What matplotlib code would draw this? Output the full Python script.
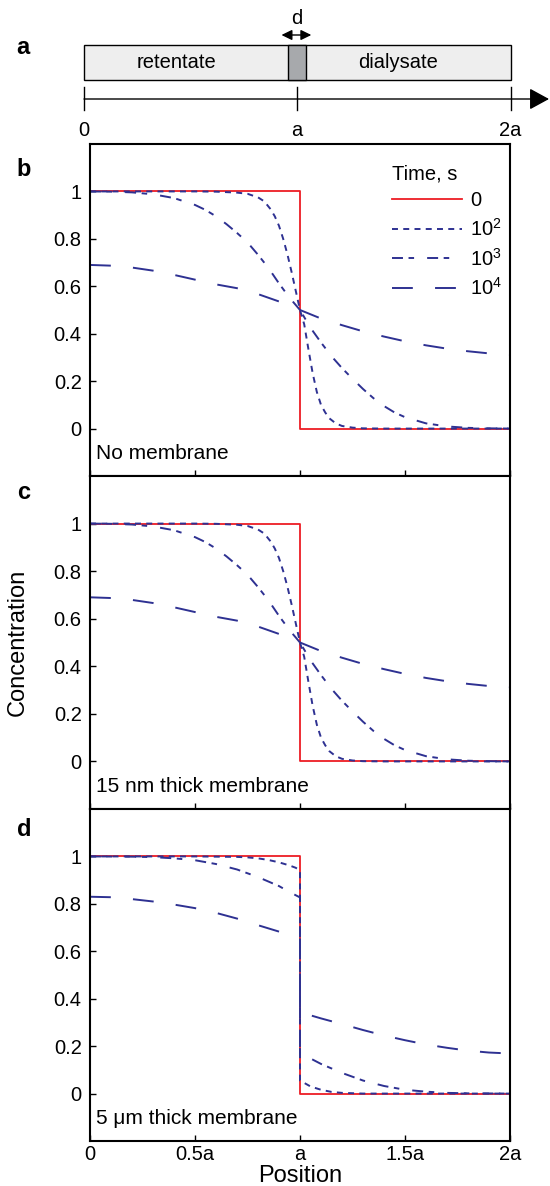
import matplotlib
matplotlib.use('Agg')
import matplotlib.pyplot as plt
from matplotlib.patches import Rectangle

plt.rcParams['font.family'] = ['Liberation Sans', 'DejaVu Sans']
plt.rcParams['mathtext.fontset'] = 'custom'
plt.rcParams['mathtext.rm'] = 'Liberation Sans'
plt.rcParams['lines.scale_dashes'] = False

# ---------------- data ----------------
time_labels = ['0', r'$\mathregular{10^2}$', r'$\mathregular{10^3}$', r'$\mathregular{10^4}$']
x_ticks = [0, 0.5, 1, 1.5, 2]
x_ticklabels = ['0', '0.5a', 'a', '1.5a', '2a']
y_ticks = [0, 0.2, 0.4, 0.6, 0.8, 1]
y_ticklabels = ['0', '0.2', '0.4', '0.6', '0.8', '1']
panel_titles = ['No membrane', '15 nm thick membrane', '5 \u03bcm thick membrane']
panel_letters = ['b', 'c', 'd']

# t = 0 (step profile)
x_t0 = [0, 1, 1, 2]
c_t0 = [1, 1, 0, 0]

# panel b (no membrane)
x_b_1e2 = [0, 0.5, 0.6, 0.7, 0.75, 0.8, 0.83, 0.86, 0.88, 0.9, 0.92, 0.94, 0.96, 0.98, 1.0,
           1.02, 1.04, 1.06, 1.08, 1.1, 1.12, 1.14, 1.17, 1.2, 1.25, 1.3, 1.4, 2.0]
c_b_1e2 = [1.0, 1.0, 0.999, 0.995, 0.99, 0.975, 0.958, 0.925, 0.895, 0.855, 0.80, 0.735, 0.66, 0.58, 0.5,
           0.44, 0.335, 0.235, 0.155, 0.10, 0.068, 0.043, 0.022, 0.011, 0.004, 0.001, 0.0, 0.0]
x_b_1e3 = [0, 0.1, 0.2, 0.3, 0.4, 0.5, 0.55, 0.6, 0.65, 0.7, 0.75, 0.8, 0.85, 0.9, 0.95, 1.0,
           1.05, 1.1, 1.15, 1.2, 1.25, 1.3, 1.35, 1.4, 1.45, 1.5, 1.6, 1.7, 1.8, 1.9, 2.0]
c_b_1e3 = [1.0, 0.999, 0.996, 0.988, 0.972, 0.943, 0.922, 0.895, 0.862, 0.825, 0.785, 0.733, 0.677, 0.612, 0.552, 0.5,
           0.425, 0.363, 0.305, 0.255, 0.21, 0.167, 0.128, 0.095, 0.068, 0.048, 0.022, 0.009, 0.003, 0.001, 0.0]
x_b_1e4 = [0, 0.1, 0.2, 0.3, 0.4, 0.5, 0.6, 0.7, 0.8, 0.9, 1.0,
           1.1, 1.2, 1.3, 1.4, 1.5, 1.6, 1.7, 1.8, 1.9, 2.0]
c_b_1e4 = [0.69, 0.687, 0.679, 0.666, 0.648, 0.628, 0.608, 0.592, 0.567, 0.536, 0.5,
           0.464, 0.436, 0.41, 0.388, 0.368, 0.351, 0.337, 0.326, 0.317, 0.312]

# panel c (15 nm membrane) - indistinguishable from b in the figure
x_c_1e2, c_c_1e2 = x_b_1e2, c_b_1e2
x_c_1e3, c_c_1e3 = x_b_1e3, c_b_1e3
x_c_1e4, c_c_1e4 = x_b_1e4, c_b_1e4

# panel d (5 um membrane)
x_d_1e2 = [0, 0.5, 0.6, 0.7, 0.75, 0.8, 0.85, 0.9, 0.95, 0.98, 1.0,
           1.0, 1.02, 1.05, 1.1, 1.15, 1.2, 1.3, 2.0]
c_d_1e2 = [1.0, 1.0, 0.999, 0.998, 0.996, 0.992, 0.985, 0.975, 0.962, 0.952, 0.94,
           0.055, 0.045, 0.03, 0.016, 0.007, 0.003, 0.0, 0.0]
x_d_1e3 = [0, 0.2, 0.3, 0.4, 0.5, 0.6, 0.7, 0.8, 0.9, 0.95, 1.0,
           1.0, 1.05, 1.1, 1.2, 1.3, 1.4, 1.5, 1.6, 1.7, 1.8, 2.0]
c_d_1e3 = [1.0, 0.999, 0.997, 0.992, 0.984, 0.968, 0.945, 0.913, 0.875, 0.85, 0.827,
           0.171, 0.148, 0.125, 0.087, 0.055, 0.032, 0.016, 0.008, 0.003, 0.001, 0.0]
x_d_1e4 = [0, 0.1, 0.2, 0.3, 0.4, 0.5, 0.6, 0.7, 0.8, 0.9, 1.0,
           1.0, 1.1, 1.2, 1.3, 1.4, 1.5, 1.6, 1.7, 1.8, 1.9, 2.0]
c_d_1e4 = [0.83, 0.828, 0.82, 0.81, 0.797, 0.782, 0.762, 0.738, 0.71, 0.683, 0.655,
           0.343, 0.317, 0.293, 0.268, 0.245, 0.225, 0.207, 0.193, 0.181, 0.173, 0.169]

# schematic (panel a)
schem_ticks = [0, 1, 2]
schem_ticklabels = ['0', 'a', '2a']
region_labels = ['retentate', 'dialysate']

# ---------------- style ----------------
RED = '#ED1C24'
BLUE = '#2E3192'
styles = [
    dict(color=RED, lw=1.3, ls='-'),
    dict(color=BLUE, lw=1.4, ls=(0, (4.3, 3.8))),
    dict(color=BLUE, lw=1.4, ls=(0, (7.9, 4.0, 4.0, 9.4))),
    dict(color=BLUE, lw=1.4, ls=(0, (15, 16))),
]

W, H = 550, 1186
fig = plt.figure(figsize=(W / 100, H / 100), dpi=100)

def fx(px):
    return px / W

def fy(py):
    return 1 - py / H

# ---------------- panel a (schematic) ----------------
axa = fig.add_axes([0, fy(144), 1, 144 / H])
px_per = (510.5 - 84) / 2.0
axa.set_xlim(-84 / px_per, (W - 84) / px_per)
axa.set_ylim(144, 0)
axa.axis('off')
memb_w = 0.086
axa.add_patch(Rectangle((0, 45), 2, 35, facecolor='#EEEEEE', edgecolor='black', lw=1.0))
axa.add_patch(Rectangle((1 - memb_w / 2, 45), memb_w, 35, facecolor='#A7A9AC', edgecolor='black', lw=1.0))
axa.text(0.436, 63, region_labels[0], ha='center', va='center', fontsize=14.5)
axa.text(1.472, 63, region_labels[1], ha='center', va='center', fontsize=14.5)
axa.annotate('', xy=(1.066, 35), xytext=(0.926, 35),
             arrowprops=dict(arrowstyle='<|-|>,head_length=0.45,head_width=0.22',
                             color='black', lw=1.0, shrinkA=0, shrinkB=0, mutation_scale=14))
axa.text(1.0, 19, 'd', ha='center', va='center', fontsize=14.5)
axa.annotate('', xy=((549 - 84) / px_per, 99), xytext=(0, 99),
             arrowprops=dict(arrowstyle='-|>,head_length=0.55,head_width=0.3',
                             color='black', lw=1.0, shrinkA=0, shrinkB=0, mutation_scale=22))
for t, lab in zip(schem_ticks, schem_ticklabels):
    axa.plot([t, t], [87, 110], color='black', lw=1.0)
    axa.text(t, 130, lab, ha='center', va='center', fontsize=14.5)

# ---------------- panels b, c, d ----------------
panel_data = [
    [(x_t0, c_t0), (x_b_1e2, c_b_1e2), (x_b_1e3, c_b_1e3), (x_b_1e4, c_b_1e4)],
    [(x_t0, c_t0), (x_c_1e2, c_c_1e2), (x_c_1e3, c_c_1e3), (x_c_1e4, c_c_1e4)],
    [(x_t0, c_t0), (x_d_1e2, c_d_1e2), (x_d_1e3, c_d_1e3), (x_d_1e4, c_d_1e4)],
]
panel_px = [(144, 476), (476, 809), (809, 1141)]
letter_px = [170, 493, 830]

axes = []
for i, (top, bot) in enumerate(panel_px):
    ax = fig.add_axes([fx(90), fy(bot), fx(510) - fx(90), (bot - top) / H])
    for (xs, ys), st, lab in zip(panel_data[i], styles, time_labels):
        ax.plot(xs, ys, label=lab, **st)
    ax.set_xlim(0, 2)
    ax.set_ylim(-0.2, 1.2)
    ax.set_xticks(x_ticks)
    ax.set_yticks(y_ticks)
    ax.set_yticklabels(y_ticklabels)
    if i == 2:
        ax.set_xticklabels(x_ticklabels)
    else:
        ax.set_xticklabels([])
    ax.tick_params(direction='in', length=4.5, width=1.0, labelsize=14.5)
    ax.tick_params(axis='y', pad=6)
    ax.tick_params(axis='x', pad=3)
    for sp in ax.spines.values():
        sp.set_linewidth(1.5)
        sp.set_color('black')
    ax.text(0.014, 0.068, panel_titles[i], transform=ax.transAxes,
            ha='left', va='center', fontsize=15)
    fig.text(fx(24), fy(letter_px[i]), panel_letters[i], ha='center', va='center',
             fontsize=17, fontweight='bold')
    axes.append(ax)

fig.text(fx(23), fy(47), 'a', ha='center', va='center', fontsize=17, fontweight='bold')

leg = axes[0].legend(title='Time, s', loc='upper left', bbox_to_anchor=(0.72, 0.938),
                     frameon=False, fontsize=14.5, title_fontsize=14.5,
                     handlelength=3.45, handletextpad=0.4, labelspacing=0.38,
                     borderpad=0, borderaxespad=0, alignment='left')

fig.text(fx(18), fy(642), 'Concentration', rotation=90, ha='center', va='center', fontsize=17)
fig.text(fx(300), fy(1176), 'Position', ha='center', va='center', fontsize=17)

fig.savefig('out.png', dpi=100)
